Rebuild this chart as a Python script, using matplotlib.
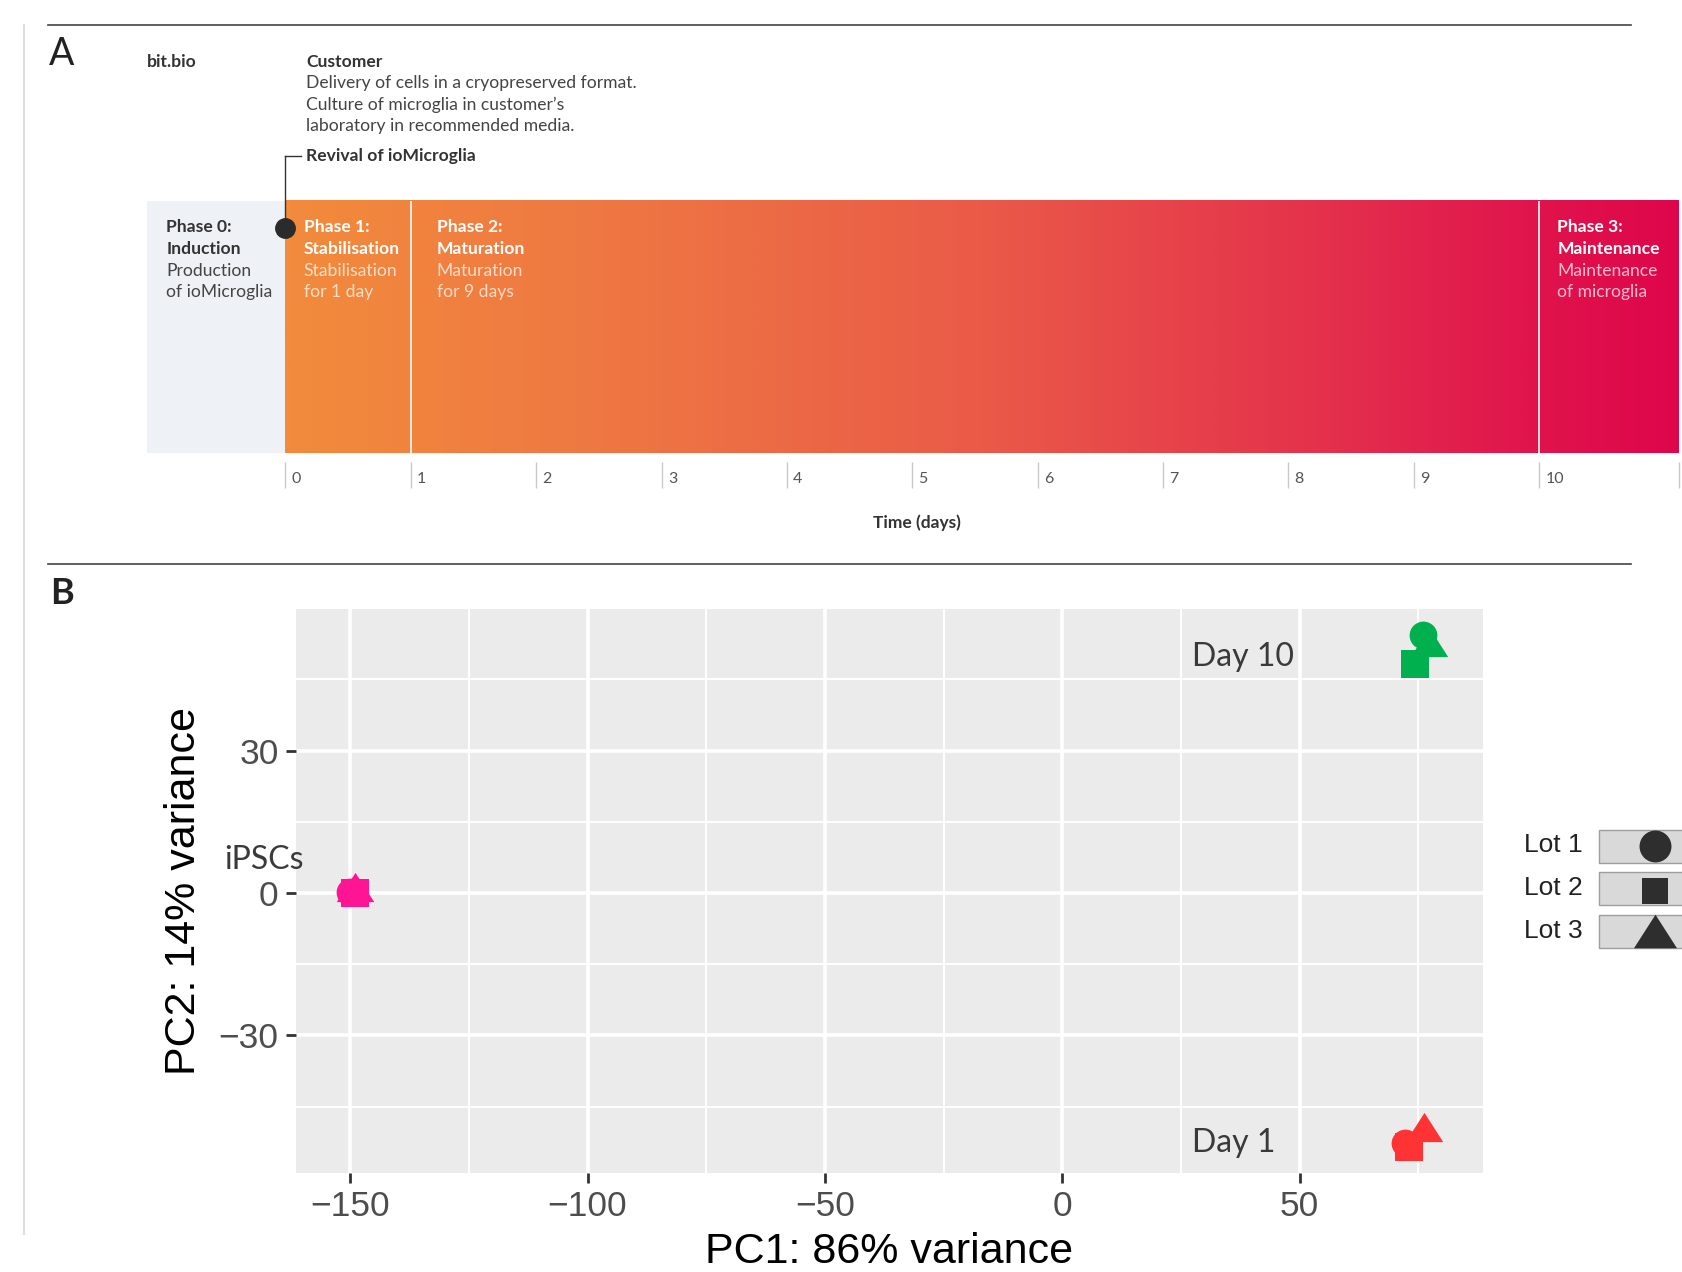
import numpy as np
import matplotlib
matplotlib.use("Agg")
import matplotlib.pyplot as plt
from matplotlib.colors import LinearSegmentedColormap
from matplotlib.patches import Rectangle
from matplotlib.path import Path

plt.rcParams["font.family"] = ["Liberation Sans", "DejaVu Sans"]

W, H, DPI = 1683, 1272, 100

# ---------------- Panel B data: PCA coordinates per sample ----------------
groups = ["iPSCs", "Day 1", "Day 10"]
group_colors = ["#FF1493", "#FF3333", "#00B04F"]
lots = ["Lot 1", "Lot 2", "Lot 3"]

ipsc_pc1 = [-150.0, -149.0, -149.0]
ipsc_pc2 = [0.3, 0.0, 1.3]
day1_pc1 = [72.1, 73.1, 76.1]
day1_pc2 = [-52.6, -53.5, -49.2]
day10_pc1 = [75.9, 74.2, 77.2]
day10_pc2 = [54.3, 48.3, 52.9]

x_ticks = [-150, -100, -50, 0, 50]
y_ticks = [-30, 0, 30]

# ---------------- Panel A data: differentiation timeline ----------------
day_ticks = list(range(0, 11))
phase_bounds = [0, 1, 10]
bar_end_day = 11.12
phase0_start_day = -1.105
phase_titles = [
    ["Phase 0:", "Induction", "Production", "of ioMicroglia"],
    ["Phase 1:", "Stabilisation", "Stabilisation", "for 1 day"],
    ["Phase 2:", "Maturation", "Maturation", "for 9 days"],
    ["Phase 3:", "Maintenance", "Maintenance", "of microglia"],
]
customer_lines = [
    "Delivery of cells in a cryopreserved format.",
    "Culture of microglia in customer\u2019s",
    "laboratory in recommended media.",
]

fig = plt.figure(figsize=(W / DPI, H / DPI), dpi=DPI)

# Timeline axis: x in days, y in pixels from the top
px0, px_per_day = 285.5, 125.35
ax_t = fig.add_axes([0, 0, 1, 1])
ax_t.set_xlim(-px0 / px_per_day, (W - px0) / px_per_day)
ax_t.set_ylim(H, 0)
ax_t.axis("off")

bar_top, bar_bot = 200.7, 453.0
grad = LinearSegmentedColormap.from_list(
    "timeline",
    [(0.0, "#F28B3C"), (0.25, "#EE7543"), (0.5, "#EA5A48"),
     (0.75, "#E4304C"), (0.9, "#E0144C"), (1.0, "#DE064B")],
)
ax_t.imshow(np.linspace(0, 1, 600).reshape(1, -1), cmap=grad, aspect="auto",
            extent=[phase_bounds[0], bar_end_day, bar_bot, bar_top],
            interpolation="bilinear", zorder=1)
ax_t.add_patch(Rectangle((phase0_start_day, bar_top), phase_bounds[0] - phase0_start_day,
                         bar_bot - bar_top, facecolor="#EEF1F5", edgecolor="none", zorder=1))
for d in phase_bounds[1:]:
    ax_t.vlines(d, bar_top, bar_bot, color="white", alpha=0.85, lw=1.4, zorder=2)

# day ticks
for d in day_ticks + [bar_end_day]:
    ax_t.vlines(d, 461.5, 488, color="#C9C9C9", lw=1.0, zorder=2)
for d in day_ticks:
    ax_t.text(d + 0.05, 479, str(d), fontsize=11.5, color="#555555", family="Lato",
              ha="left", va="center")
ax_t.text(5.04, 523, "Time (days)", fontsize=12.5, color="#333333", family="Lato",
          fontweight="bold", ha="center", va="center")

# revival marker
ax_t.plot([0, 0], [155.6, 227.5], color="#333333", lw=1.0, zorder=3)
ax_t.plot([0, 0.12], [155.6, 155.6], color="#333333", lw=1.0, zorder=3)
ax_t.plot([0], [227.5], marker="o", ms=14, color="#2B2B2B", zorder=4)

# Pixel overlay for annotation text and frame lines
ax_px = fig.add_axes([0, 0, 1, 1])
ax_px.set_xlim(0, W)
ax_px.set_ylim(H, 0)
ax_px.axis("off")

ax_px.plot([48, 1631], [24.7, 24.7], color="#444444", lw=1.2)
ax_px.plot([48, 1631], [563.5, 563.5], color="#444444", lw=1.2)
ax_px.plot([23.6, 23.6], [25, 1234], color="#DDDDDD", lw=1.5)

ax_px.text(62, 54, "A", fontsize=27, color="#222222", family="Lato", ha="center", va="center")
ax_px.text(62, 593, "B", fontsize=26, color="#222222", family="Lato", fontweight="bold",
           ha="center", va="center")

FS_A = 12.6
ax_px.text(147, 62.3, "bit.bio", fontsize=FS_A, color="#333333", family="Lato",
           fontweight="bold", ha="left", va="center")
ax_px.text(306, 62.3, "Customer", fontsize=FS_A, color="#333333", family="Lato",
           fontweight="bold", ha="left", va="center")
for i, line in enumerate(customer_lines):
    ax_px.text(306, 83.0 + 21.5 * i, line, fontsize=FS_A, color="#444444", family="Lato",
               ha="left", va="center")
ax_px.text(306, 155.6, "Revival of ioMicroglia", fontsize=FS_A, color="#333333",
           family="Lato", fontweight="bold", ha="left", va="center")

phase_x = [166.4, 303.7, 436.8, 1557.4]
for k, (xp, lines) in enumerate(zip(phase_x, phase_titles)):
    dark = k == 0
    for i, line in enumerate(lines):
        bold = i < 2
        if dark:
            col = "#333333" if bold else "#444444"
            alpha = 1.0
        else:
            col = "white"
            alpha = 1.0 if bold else 0.72
        ax_px.text(xp, 227.5 + 21.5 * i, line, fontsize=FS_A, color=col, alpha=alpha,
                   family="Lato", fontweight="bold" if bold else "normal",
                   ha="left", va="center")

# ---------------- Panel B: PCA scatter ----------------
ax = fig.add_axes([296 / W, (H - 1172.7) / H, (1483 - 296) / W, (1172.7 - 609) / H])
ax.set_facecolor("#EBEBEB")
ax.set_xlim(-161.4, 88.6)
ax.set_ylim(-58.9, 59.8)
ax.set_xticks(x_ticks)
ax.set_yticks(y_ticks)
ax.set_xticks([-125, -75, -25, 25, 75], minor=True)
ax.set_yticks([-45, -15, 15, 45], minor=True)
ax.grid(which="major", color="white", lw=2.6)
ax.grid(which="minor", color="white", lw=1.4)
ax.set_axisbelow(True)
for s in ax.spines.values():
    s.set_visible(False)
ax.tick_params(which="major", length=7.5, width=2.0, color="#333333",
               labelsize=25.5, labelcolor="#4D4D4D", pad=5)
ax.tick_params(which="minor", length=0)

tri = Path([(0, 0.78), (-1, -0.78), (1, -0.78), (0, 0.78)],
           [Path.MOVETO, Path.LINETO, Path.LINETO, Path.CLOSEPOLY])
lot_markers = ["o", "s", tri]
lot_sizes = [20, 20, 27]

series = [(ipsc_pc1, ipsc_pc2), (day1_pc1, day1_pc2), (day10_pc1, day10_pc2)]
for (xs, ys), col in zip(series, group_colors):
    for j in [2, 1, 0]:
        ax.plot(xs[j], ys[j], marker=lot_markers[j], ms=lot_sizes[j], color=col,
                markeredgewidth=0, linestyle="none", clip_on=False, zorder=3)

label_pos = {"iPSCs": (-176.5, 7.0), "Day 1": (27.4, -52.6), "Day 10": (27.4, 49.7)}
for g in groups:
    gx, gy = label_pos[g]
    ax.text(gx, gy, g, fontsize=23, color="#3A3A3A", family="Lato", ha="left",
            va="center", clip_on=False, zorder=4)

ax.set_xlabel("PC1: 86% variance", fontsize=31, color="black")
ax.set_ylabel("PC2: 14% variance", fontsize=31, color="black")
ax.xaxis.set_label_coords(0.5, -0.1407)
ax.xaxis.label.set_va("center")
ax.yaxis.set_label_coords(-0.094, 0.5)
ax.yaxis.label.set_va("center")

# Legend for lots, drawn as keyed boxes
for i, (lab, mk) in enumerate(zip(lots, lot_markers)):
    yc = 846.3 + 42.6 * i
    ax_px.add_patch(Rectangle((1599, yc - 16.5), 100, 33, facecolor="#D9D9D9",
                              edgecolor="#9E9E9E", lw=1.0))
    ax_px.text(1524, yc - 1, lab, fontsize=19, color="#222222", ha="left", va="center")
    ms = [23, 19, 31][i]
    dy = [0, 2, -1][i]
    ax_px.plot(1655, yc + dy, marker=mk, ms=ms, color="#2E2E2E", markeredgewidth=0,
               linestyle="none")

fig.savefig("out.png", dpi=DPI)
